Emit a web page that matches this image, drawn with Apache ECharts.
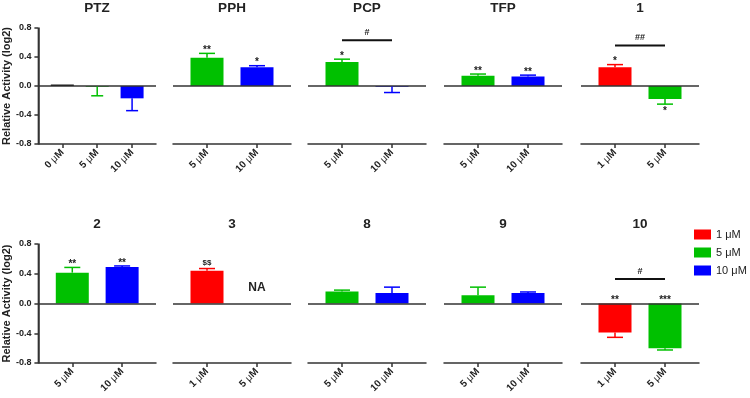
<!DOCTYPE html>
<html>
<head>
<meta charset="utf-8">
<script src="https://cdn.jsdelivr.net/npm/echarts@6/dist/echarts.min.js"></script>
<style>
  html, body { margin: 0; background: #fff; }
  #chart { width: 750px; height: 398px; }
</style>
</head>
<body>
<div id="chart"></div>
<script>
// one panel per compound, values are log2 relative activity
const panelNames = ['PTZ', 'PPH', 'PCP', 'TFP', '1', '2', '3', '8', '9', '10'];
const panelDoses = [
  ['0 μM', '5 μM', '10 μM'],
  ['5 μM', '10 μM'],
  ['5 μM', '10 μM'],
  ['5 μM', '10 μM'],
  ['1 μM', '5 μM'],
  ['5 μM', '10 μM'],
  ['1 μM', '5 μM'],
  ['5 μM', '10 μM'],
  ['5 μM', '10 μM'],
  ['1 μM', '5 μM']
];
const panelValues = [
  [0.02, -0.01, -0.17],
  [0.39, 0.26],
  [0.33, -0.01],
  [0.14, 0.13],
  [0.26, -0.18],
  [0.415, 0.49],
  [0.44, null],
  [0.16, 0.14],
  [0.11, 0.14],
  [-0.39, -0.60]
];
const panelErrors = [
  [0.0, 0.125, 0.17],
  [0.06, 0.02],
  [0.04, 0.08],
  [0.025, 0.02],
  [0.035, 0.07],
  [0.07, 0.015],
  [0.03, 0],
  [0.02, 0.08],
  [0.11, 0.015],
  [0.065, 0.025]
];
const panelMarks = [
  ['', '', ''],
  ['**', '*'],
  ['*', ''],
  ['**', '**'],
  ['*', '*'],
  ['**', '**'],
  ['$$', 'NA'],
  ['', ''],
  ['', ''],
  ['**', '***']
];
// where a mark sits when it is not at the end of the error bar
const panelMarkAt = [
  [null, null, null],
  [null, null],
  [null, null],
  [null, null],
  [null, null],
  [null, null],
  [null, 0.1],
  [null, null],
  [null, null],
  [0, 0]
];
const bracketPanels = [2, 4, 9];
const bracketLevels = [0.63, 0.56, 0.33];
const bracketTexts = ['#', '##', '#'];
const legendDoses = ['1 μM', '5 μM', '10 μM'];
const yTicks = [-0.8, 0.8, 0.4];

const doseColors = { '0 μM': '#000000', '1 μM': '#ff0000', '5 μM': '#00c000', '10 μM': '#0000ff' };
const FONT = 'Arial, "Liberation Sans", sans-serif';
const colLefts = [38, 173, 308, 444, 581];
const rowTops = [28, 244];
const rowHeights = [116, 119];
const panelWidth = 118;

const chart = echarts.init(document.getElementById('chart'));
const grid = [], xAxis = [], yAxis = [], series = [], title = [];

panelNames.forEach((name, p) => {
  const row = Math.floor(p / 5), col = p % 5;
  const doses = panelDoses[p], values = panelValues[p], errs = panelErrors[p];
  const n = doses.length;
  const step = n === 3 ? 35 : 50;
  const firstTick = n === 3 ? 24 : 34;
  const barWidth = n === 3 ? 23 : 33;
  const cap = n === 3 ? 12 : 16;
  // doses sit at x = 1, 2, 3 so that x = 0 stays outside the panel
  const xmin = 1 - firstTick / step;
  const xmax = xmin + panelWidth / step;
  const ticks = doses.map((d, i) => i + 1);
  const first = col === 0;

  grid.push({ left: colLefts[col], top: rowTops[row], width: panelWidth, height: rowHeights[row] });
  title.push({
    text: name, left: colLefts[col] + panelWidth / 2, top: row === 0 ? 1 : 217, textAlign: 'center',
    padding: 0,
    textStyle: { fontFamily: FONT, fontWeight: 'bold', fontSize: 13.5, color: '#222' }
  });

  xAxis.push({
    type: 'value', gridIndex: p, min: xmin, max: xmax,
    axisLine: { show: true, onZero: false, lineStyle: { color: '#333', width: 1.5 } },
    axisTick: { show: true, customValues: ticks, length: 4, lineStyle: { color: '#333', width: 1.5 } },
    axisLabel: {
      customValues: ticks, rotate: 45, margin: 7,
      formatter: v => doses[Math.round(v) - 1].replace('μ', '{u|μ}'),
      fontFamily: FONT, fontWeight: 'bold', fontSize: 10, color: '#222',
      rich: { u: { fontFamily: FONT, fontWeight: 'normal', fontSize: 10, color: '#222' } }
    },
    splitLine: { show: false }
  });

  yAxis.push({
    type: 'value', gridIndex: p, min: yTicks[0], max: yTicks[1], interval: yTicks[2],
    show: first,
    name: first ? 'Relative Activity (log2)' : '',
    nameLocation: 'middle', nameGap: 25,
    nameTextStyle: { fontFamily: FONT, fontWeight: 'bold', fontSize: 11, color: '#222' },
    axisLine: { show: true, onZero: false, lineStyle: { color: '#333', width: 1.5 } },
    axisTick: { show: true, length: 4, lineStyle: { color: '#333', width: 1.5 } },
    axisLabel: { fontFamily: FONT, fontWeight: 'bold', fontSize: 9, color: '#222', margin: 7,
      formatter: v => v.toFixed(1) },
    splitLine: { show: false }
  });

  let zeroAdded = false;
  doses.forEach((d, i) => {
    if (values[i] == null) return;
    const s = {
      type: 'bar', name: d, xAxisIndex: p, yAxisIndex: p,
      data: [[i + 1, values[i]]], barWidth: barWidth, barGap: '-100%',
      itemStyle: { color: doseColors[d] }, silent: true
    };
    if (!zeroAdded) {
      s.markLine = {
        silent: true, symbol: 'none', label: { show: false },
        lineStyle: { color: '#333', width: 1.5, type: 'solid' },
        data: [{ yAxis: 0 }]
      };
      zeroAdded = true;
    }
    series.push(s);
  });

  const b = bracketPanels.indexOf(p);
  series.push({
    type: 'custom', xAxisIndex: p, yAxisIndex: p, silent: true, z: 5, clip: false,
    data: doses.map((d, i) => [i + 1, values[i] == null ? 0 : values[i]]),
    renderItem: (params, api) => {
      const i = params.dataIndex, x = i + 1;
      const v = values[i], e = errs[i];
      const color = doseColors[doses[i]];
      const children = [];
      const sign = v != null && v < 0 ? -1 : 1;
      const tip = v == null ? 0 : v + sign * (e || 0);
      if (v != null && e) {
        const p0 = api.coord([x, v]), p1 = api.coord([x, tip]);
        children.push({ type: 'line', shape: { x1: p0[0], y1: p0[1], x2: p1[0], y2: p1[1] },
          style: { stroke: color, lineWidth: 1.5 } });
        children.push({ type: 'line', shape: { x1: p1[0] - cap / 2, y1: p1[1], x2: p1[0] + cap / 2, y2: p1[1] },
          style: { stroke: color, lineWidth: 1.5 } });
      }
      const mark = panelMarks[p][i];
      if (mark) {
        const at = panelMarkAt[p][i];
        const below = at == null && sign < 0;
        const pt = api.coord([x, at == null ? tip : at]);
        const star = mark.charAt(0) === '*';
        const size = mark === 'NA' ? 12 : (mark === '$$' ? 8 : 10);
        const y = below ? pt[1] + 2 : pt[1] + (star ? 2 : -2);
        children.push({ type: 'text', x: pt[0], y: y,
          style: { text: mark, fill: '#222', align: 'center', verticalAlign: below ? 'top' : 'bottom',
            font: 'bold ' + size + 'px ' + FONT } });
      }
      if (i === 0 && b >= 0) {
        const a = api.coord([1, bracketLevels[b]]), c = api.coord([2, bracketLevels[b]]);
        children.push({ type: 'line', shape: { x1: a[0], y1: a[1], x2: c[0], y2: c[1] },
          style: { stroke: '#111', lineWidth: 2 } });
        children.push({ type: 'text', x: (a[0] + c[0]) / 2, y: a[1] - 3,
          style: { text: bracketTexts[b], fill: '#222', align: 'center', verticalAlign: 'bottom',
            font: 'bold 9px ' + FONT } });
      }
      return { type: 'group', children: children };
    }
  });
});

chart.setOption({
  animation: false,
  backgroundColor: '#fff',
  title: title,
  legend: {
    data: legendDoses, orient: 'vertical', left: 689, top: 224,
    icon: 'rect', itemWidth: 17, itemHeight: 10, itemGap: 7,
    textStyle: { fontFamily: FONT, fontSize: 11, color: '#222' }
  },
  grid: grid,
  xAxis: xAxis,
  yAxis: yAxis,
  series: series
});

// left axis line of the first column, placed through the chart's own scales
const axisLines = [];
panelNames.forEach((name, p) => {
  if (p % 5 !== 0) return;
  const n = panelDoses[p].length;
  const xmin = 1 - (n === 3 ? 24 : 34) / (n === 3 ? 35 : 50);
  const t = chart.convertToPixel({ gridIndex: p }, [xmin, yTicks[1]]);
  const u = chart.convertToPixel({ gridIndex: p }, [xmin, yTicks[0]]);
  axisLines.push({
    type: 'line', z: 100, silent: true,
    shape: { x1: t[0], y1: t[1], x2: u[0], y2: u[1] },
    style: { stroke: '#333', lineWidth: 1.5 }
  });
});
chart.setOption({ graphic: axisLines });
</script>
</body>
</html>
